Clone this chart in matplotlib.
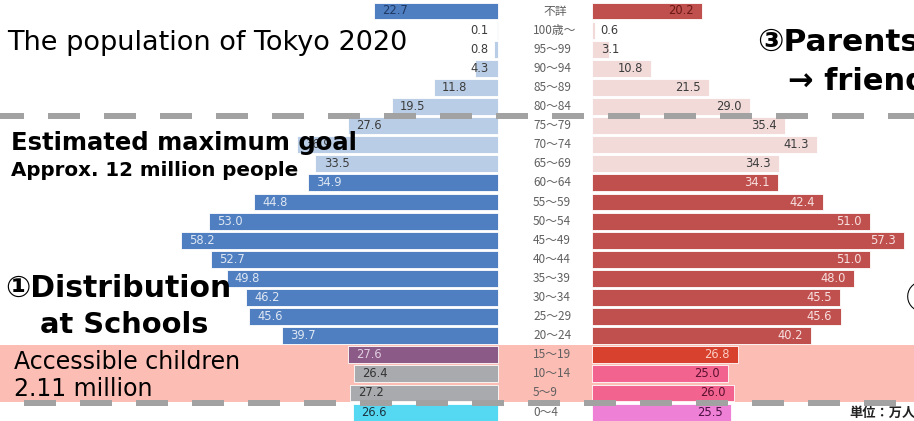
import matplotlib
matplotlib.use("Agg")
import matplotlib.pyplot as plt

# ---------------- data ----------------
age_groups = ["不詳", "100歳～", "95～99", "90～94", "85～89", "80～84", "75～79",
              "70～74", "65～69", "60～64", "55～59", "50～54", "45～49", "40～44",
              "35～39", "30～34", "25～29", "20～24", "15～19", "10～14", "5～9", "0～4"]
male = [22.7, 0.1, 0.8, 4.3, 11.8, 19.5, 27.6, 36.9, 33.5, 34.9, 44.8, 53.0, 58.2,
        52.7, 49.8, 46.2, 45.6, 39.7, 27.6, 26.4, 27.2, 26.6]
female = [20.2, 0.6, 3.1, 10.8, 21.5, 29.0, 35.4, 41.3, 34.3, 34.1, 42.4, 51.0, 57.3,
          51.0, 48.0, 45.5, 45.6, 40.2, 26.8, 25.0, 26.0, 25.5]

# ---------------- styles ----------------
DB, LB = "#4f7fc0", "#b9cde6"
DR, LR = "#c0504d", "#f2dad9"
left_colors = [DB] + [LB] * 8 + [DB] * 9 + ["#8c5a86", "#a8aaae", "#a8aaae", "#55d9f3"]
right_colors = [DR] + [LR] * 8 + [DR] * 9 + ["#d8412d", "#f2648f", "#f2648f", "#ee80d6"]
left_txt = ["#1f3864"] + ["#3c3c3c"] * 8 + ["#dfe7f3"] * 9 + ["#e0cfe0", "#333333", "#333333", "#1b3340"]
right_txt = ["#6a1818"] + ["#3c3c3c"] * 8 + ["#f7e0e0"] * 9 + ["#f9cdc4", "#5a1030", "#5a1030", "#4a1040"]

W, H = 914, 421
PXU = 5.45          # pixels per unit
CX = 545            # centre of the gap (px)
G = (592 - 498) / 2 / PXU   # half gap in units
ROW0, ROWSTEP = 11, 19.1

plt.rcParams["lines.scale_dashes"] = False
fig = plt.figure(figsize=(W / 100, H / 100), dpi=100)
ax = fig.add_axes([0, 0, 1, 1])
ax.set_xlim((0 - CX) / PXU, (W - CX) / PXU)
ax.set_ylim((H - ROW0) / ROWSTEP, (0 - ROW0) / ROWSTEP)
ax.axis("off")

y = list(range(len(age_groups)))

# pink band behind the child rows
ax.axhspan(17.5, 20.45, color="#fcbdb5", zorder=0, lw=0)

bh = 0.88
ax.barh(y, [-v for v in male], left=-G, height=bh, color=left_colors,
        edgecolor="white", linewidth=0.6, zorder=2)
ax.barh(y, female, left=G, height=bh, color=right_colors,
        edgecolor="white", linewidth=0.6, zorder=2)

lab_kw = dict(family=["DejaVu Sans"], fontsize=8.3, va="center", zorder=4)
for i in y:
    v = male[i]
    if v < 8:
        ax.text(-G - 1.8, i, f"{v:.1f}", ha="right", color=left_txt[i], **lab_kw)
    else:
        ax.text(-G - v + 1.5, i, f"{v:.1f}", ha="left", color=left_txt[i], **lab_kw)
    v = female[i]
    if v < 7:
        ax.text(G + 1.6, i, f"{v:.1f}", ha="left", color=right_txt[i], **lab_kw)
    else:
        ax.text(G + v - 1.5, i, f"{v:.1f}", ha="right", color=right_txt[i], **lab_kw)

# centre age labels
for i, lab in enumerate(age_groups):
    if i == 0:
        ax.text((555 - CX) / PXU, i, lab, ha="center", va="center", fontsize=8.5,
                color="#606060", family=["Noto Sans CJK JP", "DejaVu Sans"], zorder=4)
    else:
        ax.text((533 - CX) / PXU, i, lab, ha="left", va="center", fontsize=8.5,
                color="#606060", family=["Noto Sans CJK JP", "DejaVu Sans"], zorder=4)

# dashed guide lines
pt = 0.72
ax.axhline(5.5, color="#a2a2a2", lw=6 * pt, linestyle=(8 * pt, (32 * pt, 24 * pt)),
           dash_capstyle="butt", zorder=5)
ax.axhline(20.5, color="#a2a2a2", lw=6 * pt, linestyle=(32 * pt, (32 * pt, 24 * pt)),
           dash_capstyle="butt", zorder=5)


def ftext(x, yy, s, size, weight="normal", color="black", fam=None, ha="left"):
    fam = fam or ["DejaVu Sans", "Noto Sans CJK JP"]
    fig.text(x / W, 1 - yy / H, s, fontsize=size, fontweight=weight, color=color,
             family=fam, ha=ha, va="center", zorder=10)


ftext(7, 43, "The population of Tokyo 2020", 19.5)
ftext(11, 143, "Estimated maximum goal", 17.5, "bold")
ftext(11, 170, "Approx. 12 million people", 14.3, "bold")
ftext(5, 288, "①Distribution", 21.5, "bold")
ftext(40, 325, "at Schools", 20.8, "bold")
ftext(14, 362, "Accessible children", 17)
ftext(14, 389, "2.11 million", 17)
ftext(757, 42, "③Parents", 22.5, "bold")
ftext(788, 81, "→ friends", 22, "bold")
ftext(906, 299, "②", 24, "normal", fam=["Noto Sans CJK JP", "DejaVu Sans"])
ftext(849, 413, "単位：万人", 9.5, "bold", color="#222222", fam=["Noto Sans CJK JP", "DejaVu Sans"])

fig.savefig("out.png", dpi=100)
